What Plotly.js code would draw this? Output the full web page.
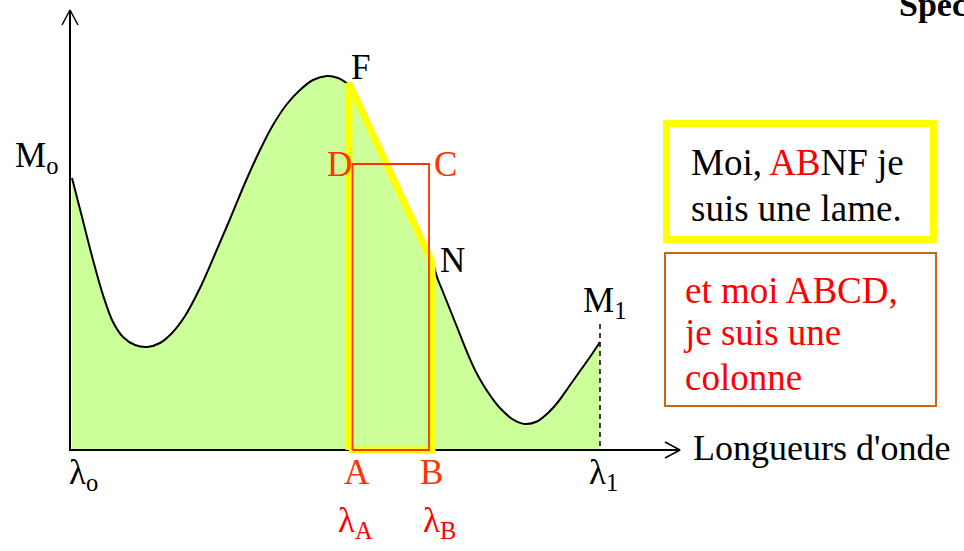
<!DOCTYPE html>
<html>
<head>
<meta charset="utf-8">
<script src="https://cdn.plot.ly/plotly-3.0.1.min.js"></script>
<style>html,body{margin:0;padding:0;background:#fff;}#chart{width:964px;height:551px;}</style>
</head>
<body>
<div id="chart"></div>
<script>
// Spectral curve (wavelength, arbitrary units from lambda_o) and exitance M (arbitrary units)
const lambdaLeft = [2, 12, 23, 33, 43, 53, 65, 77, 90, 102, 115, 130, 145, 160, 175, 190, 203, 217, 230, 243, 257, 268, 278];
const exitLeft   = [272, 233, 190, 155, 128, 113, 105, 103, 107, 117, 134, 162, 196, 231, 267, 300, 325, 346, 360, 370, 374, 372, 366];
const lambdaRight = [363, 367, 373, 380, 388, 397, 405, 413, 422, 430, 443, 455, 467, 478, 488, 498, 510, 520, 530];
const exitRight   = [188, 173, 158, 140.5, 120.5, 98, 80, 65.5, 52, 42, 30.5, 26, 28.5, 37, 48, 62, 79, 93, 108];

// Key wavelengths / points
const lambdaO = 0, lambdaA = 279, lambdaB = 362, lambda1 = 530;
const exitF = 367, exitN = 188, exitD = 286, exitDash = 126;
const axisXEnd = 610, axisYEnd = 440;

const curveX = lambdaLeft.concat(lambdaRight);
const curveY = exitLeft.concat(exitRight);

const FONT = 'Liberation Serif, Times New Roman, serif';
const RED = '#ff3300', PURE = '#ff0000';

const traces = [
  // green area under curve
  {x: curveX, y: curveY, mode: 'lines', fill: 'tozeroy', fillcolor: '#ccff99',
   line: {color: 'rgba(0,0,0,0)', shape: 'spline', smoothing: 1}, hoverinfo: 'skip'},
  // black curve, left part
  {x: lambdaLeft, y: exitLeft, mode: 'lines', line: {color: '#000', width: 2, shape: 'spline', smoothing: 1}, hoverinfo: 'skip'},
  // black curve, right part
  {x: lambdaRight, y: exitRight, mode: 'lines', line: {color: '#000', width: 2, shape: 'spline', smoothing: 1}, hoverinfo: 'skip'},
  // axes
  {x: [lambdaO, lambdaO, axisXEnd], y: [axisYEnd, 0, 0], mode: 'lines', line: {color: '#000', width: 2}, hoverinfo: 'skip'},
  // arrow heads
  {x: [lambdaO - 8, lambdaO, lambdaO + 8], y: [axisYEnd - 15, axisYEnd, axisYEnd - 15], mode: 'lines', line: {color: '#000', width: 1.5}, hoverinfo: 'skip'},
  {x: [axisXEnd - 15, axisXEnd, axisXEnd - 15], y: [8, 0, -8], mode: 'lines', line: {color: '#000', width: 1.5}, hoverinfo: 'skip'},
  // dashed at lambda1
  {x: [lambda1, lambda1], y: [exitDash, 0], mode: 'lines', line: {color: '#000', width: 1.5, dash: '5px,4px'}, hoverinfo: 'skip'},
  // yellow lame ABNF
  {x: [lambdaA, lambdaB, lambdaB, lambdaA, lambdaA], y: [0, 0, exitN, exitF, 0], mode: 'lines',
   line: {color: '#ffff00', width: 7}, hoverinfo: 'skip'},
  // red column ABCD
  {x: [lambdaA + 3.5, lambdaB - 3, lambdaB - 3, lambdaA + 3.5, lambdaA + 3.5], y: [0, 0, exitD, exitD, 0], mode: 'lines',
   line: {color: RED, width: 1.8}, hoverinfo: 'skip'}
];

function lab(text, x, y, color, xanchor, size) {
  return {text: text, x: x, y: y, xref: 'x', yref: 'y', showarrow: false,
    xanchor: xanchor || 'center', yanchor: 'middle',
    font: {family: FONT, size: size || 35, color: color || '#000'}};
}

const annotations = [
  lab('M<sub>o</sub>', -57, 293, '#000', 'left'),
  lab('F', 290, 383),
  lab('D', 269, 286, RED),
  lab('C', 375, 286, RED),
  lab('N', 382, 190),
  lab('M<sub>1</sub>', 511, 148, '#000', 'left'),
  lab('λ<sub>o</sub>', -3, -24, '#000', 'left'),
  lab('λ<sub>1</sub>', 517, -24, '#000', 'left'),
  lab('A', 287, -22, RED),
  lab('B', 361, -22, RED),
  lab('λ<sub>A</sub>', 266, -72, PURE, 'left'),
  lab('λ<sub>B</sub>', 351, -72, PURE, 'left'),
  lab("Longueurs d'onde", 621, 2, '#000', 'left', 36),
  lab("Moi, <span style='color:#ff0000'>AB</span>NF je", 619, 288, '#000', 'left', 37),
  lab('suis une lame.', 619, 242, '#000', 'left', 37),
  lab('et moi ABCD,', 613, 160, PURE, 'left', 37),
  lab('je suis une', 611, 118, PURE, 'left', 37),
  lab('colonne', 613, 73, PURE, 'left', 37),
  {text: '<b>Spec</b>', x: 827, y: 446, xref: 'x', yref: 'y', showarrow: false, xanchor: 'left', yanchor: 'middle',
   font: {family: FONT, size: 34, color: '#000'}}
];

const shapes = [
  {type: 'rect', xref: 'x', yref: 'y', x0: 596.5, x1: 863.5, y0: 210.5, y1: 326.5, line: {color: '#ffff00', width: 7}},
  {type: 'rect', xref: 'x', yref: 'y', x0: 595, x1: 866, y0: 44, y1: 197, line: {color: '#cc6611', width: 2}}
];

const layout = {
  width: 964, height: 551,
  margin: {l: 0, r: 0, t: 0, b: 0},
  paper_bgcolor: '#fff', plot_bgcolor: '#fff',
  showlegend: false,
  xaxis: {range: [-70, 894], visible: false, fixedrange: true},
  yaxis: {range: [-101, 450], visible: false, fixedrange: true},
  annotations: annotations,
  shapes: shapes
};

Plotly.newPlot('chart', traces, layout, {staticPlot: true, displayModeBar: false});
</script>
</body>
</html>
